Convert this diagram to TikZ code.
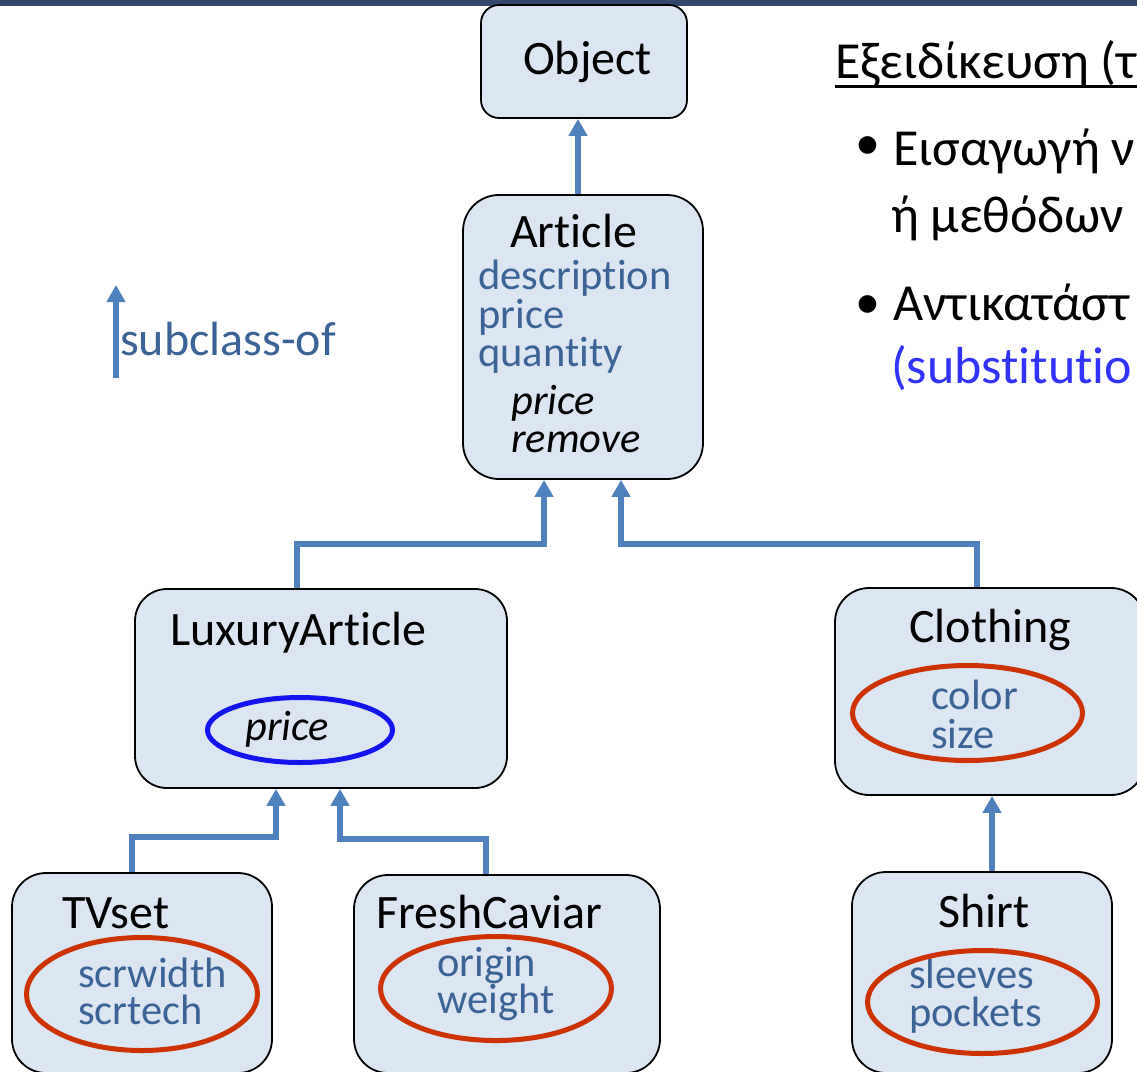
\documentclass[tikz,border=0pt]{standalone}
\usepackage{fontspec}
\setmainfont[Ligatures=NoCommon]{Carlito}
\usetikzlibrary{arrows.meta,shapes.geometric,backgrounds}

\definecolor{barblue}{RGB}{51,71,110}
\definecolor{boxfill}{RGB}{220,230,242}
\definecolor{linkblue}{RGB}{79,129,189}
\definecolor{attrblue}{RGB}{58,99,151}
\definecolor{ringred}{RGB}{204,51,0}
\definecolor{ringblue}{RGB}{20,20,240}
\definecolor{subblue}{RGB}{51,51,255}

\begin{document}
\begin{tikzpicture}[x=1pt,y=-1pt,
  classbox/.style={draw=black, line width=1.8pt, fill=boxfill,
    rounded corners=#1, inner sep=0pt},
  classbox/.default=34pt,
  title/.style={anchor=base west, inner sep=0pt, text=black,
    font=\fontsize{48pt}{48pt}\selectfont},
  attr/.style={anchor=base west, inner sep=0pt, text=attrblue,
    font=\fontsize{42.5pt}{42.5pt}\selectfont},
  oper/.style={anchor=base west, inner sep=0pt, text=black,
    font=\fontsize{42.5pt}{42.5pt}\selectfont\itshape},
  ring/.style={draw=ringred, line width=5pt, ellipse, inner sep=0pt},
  link/.style={draw=linkblue, line width=5.5pt,
    -{Triangle[width=18pt,length=17pt]}},
  greek/.style={anchor=base west, inner sep=0pt, text=black,
    font=\fontsize{52pt}{52pt}\selectfont},
]
\useasboundingbox (0,0) rectangle (1137,1071);
\clip (0,0) rectangle (1137,1071);

% class boxes
\node[classbox=18pt, minimum width=206pt, minimum height=113pt] (object) at (584,61.5) {};
\node[classbox=36pt, minimum width=240pt, minimum height=284pt] (article) at (583,337) {};
\node[classbox=32pt, minimum width=372pt, minimum height=199pt] (lux) at (321,688.5) {};
\node[classbox, minimum width=310pt, minimum height=207pt] (clothing) at (990,691.5) {};
\node[classbox, minimum width=260pt, minimum height=200pt] (tvset) at (142,973) {};
\node[classbox, minimum width=306pt, minimum height=198pt] (caviar) at (507,974) {};
\node[classbox, minimum width=260pt, minimum height=201pt] (shirt) at (982,972.5) {};

% class names
\node[title] (t-object) at (523,74) {Object};
\node[title] (t-article) at (510,247) {Article};
\node[title] (t-lux) at (170,645) {LuxuryArticle};
\node[title] (t-clothing) at (909,642) {Clothing};
\node[title] (t-tvset) at (62,928) {TVset};
\node[title] (t-caviar) at (376,928) {FreshCaviar};
\node[title] (t-shirt) at (938,927) {Shirt};

% attributes and operations
\node[attr] (a-desc) at (478,289) {description};
\node[attr] (a-price) at (478,328) {price};
\node[attr] (a-qty) at (478,366) {quantity};
\node[oper] (o-price) at (511,414) {price};
\node[oper] (o-remove) at (511,452) {remove};
\node[oper] (o-luxprice) at (245,740) {price};
\node[attr] (a-color) at (931,709) {color};
\node[attr] (a-size) at (931,748) {size};
\node[attr] (a-scrw) at (78,987) {scrwidth};
\node[attr] (a-scrt) at (78,1024) {scrtech};
\node[attr] (a-origin) at (437,976) {origin};
\node[attr] (a-weight) at (437,1013) {weight};
\node[attr] (a-sleeves) at (909,988) {sleeves};
\node[attr] (a-pockets) at (909,1026) {pockets};

% highlight rings
\node[ring, draw=ringblue, minimum width=185pt, minimum height=65pt] (r-lux) at (300,730) {};
\node[ring, minimum width=230pt, minimum height=95pt] (r-clothing) at (967.5,713) {};
\node[ring, minimum width=231pt, minimum height=113pt] (r-tvset) at (142,994) {};
\node[ring, minimum width=231pt, minimum height=104pt] (r-caviar) at (496,988.5) {};
\node[ring, minimum width=230pt, minimum height=103pt] (r-shirt) at (982.5,1002) {};

% legend
\coordinate (leg-foot) at (116,378);
\coordinate (leg-head) at (116,285);
\node[anchor=base west, inner sep=0pt, text=attrblue,
  font=\fontsize{48pt}{48pt}\selectfont] (leg-text) at (120,355) {subclass-of};

% side text
\node[greek] (g-title) at (835,78) {Εξειδίκευση (τ};
\node[anchor=center, inner sep=0pt, font=\fontsize{50pt}{50pt}\selectfont] (g-bul1) at (868,148) {•};
\node[greek] (g-l1) at (893,165) {Εισαγωγή ν};
\node[greek] (g-l2) at (891,232) {ή μεθόδων};
\node[anchor=center, inner sep=0pt, font=\fontsize{50pt}{50pt}\selectfont] (g-bul2) at (868,307) {•};
\node[greek] (g-l3) at (893,320) {Αντικατάστ};
\node[greek, text=subblue] (g-l4) at (891,383) {(substitutio};

\begin{scope}[on background layer]
  \fill[white] (0,0) rectangle (1137,1071);
  \fill[barblue] (0,0) rectangle (1137,6);
  \draw[line width=3pt] ([yshift=-8pt]g-title.base west) -- ++(340,0);
  % subclass-of connectors
  \draw[link] ([xshift=-5pt]article.north) -- ([xshift=-5pt]article.north |- object.south);
  \draw[link] ([xshift=-24pt]lux.north) -- ++(0,-44) -| ([xshift=-39pt]article.south);
  \draw[link] ([xshift=-13pt]clothing.north) -- ++(0,-43) -| ([xshift=38pt]article.south);
  \draw[link] ([xshift=-10pt]tvset.north) -- ++(0,-35) -| ([xshift=-45pt]lux.south);
  \draw[link] ([xshift=-21pt]caviar.north) -- ++(0,-35) -| ([xshift=19pt]lux.south);
  \draw[link] ([xshift=10pt]shirt.north) -- ([xshift=10pt]shirt.north |- clothing.south);
  \draw[link] (leg-foot) -- (leg-head);
\end{scope}
\end{tikzpicture}
\end{document}
